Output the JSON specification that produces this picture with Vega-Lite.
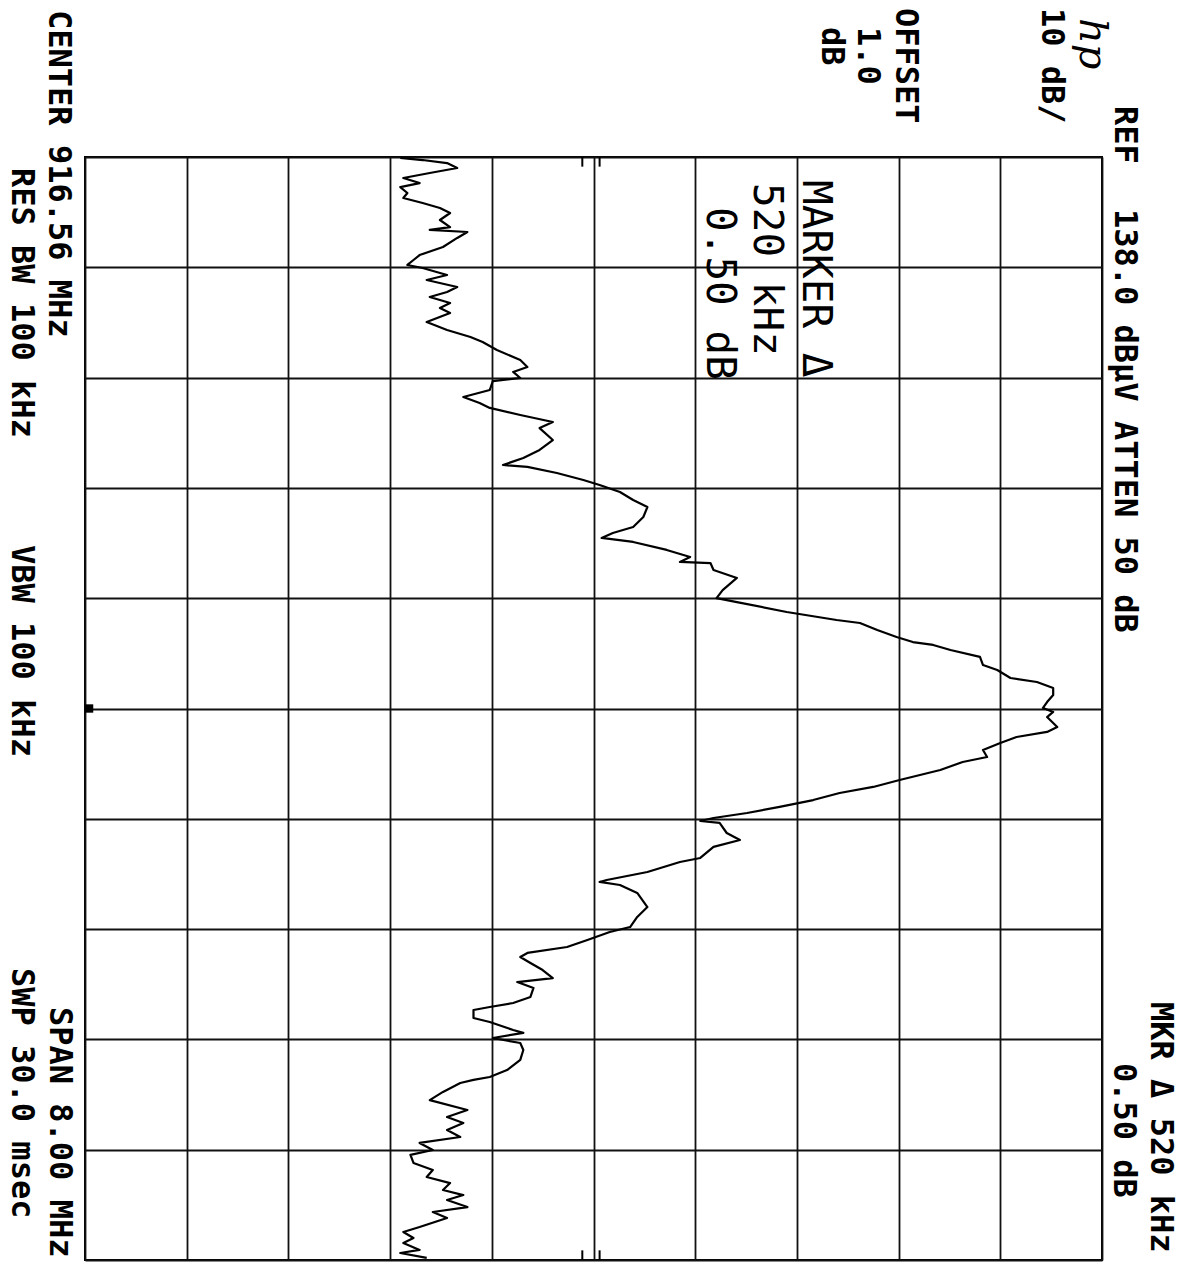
{
  "$schema": "https://vega.github.io/schema/vega-lite/v6.json",
  "width": 1017,
  "height": 1103,
  "autosize": "none",
  "padding": {"left": 85, "top": 157, "right": 80, "bottom": 4},
  "background": "#ffffff",
  "config": {
    "view": {"stroke": "#000000", "strokeWidth": 2},
    "axis": {
      "grid": true,
      "gridColor": "#111111",
      "gridWidth": 1.8,
      "gridOpacity": 1,
      "labels": false,
      "ticks": false,
      "domain": false
    },
    "text": {"font": "DejaVu Sans Mono", "fontWeight": "bold", "color": "#000000", "angle": 90, "align": "left", "baseline": "middle"}
  },
  "datasets": {
    "trace": [
      {"f": 912.567, "a": 69.0}, {"f": 912.582, "a": 71.2}, {"f": 912.604, "a": 73.6}, {"f": 912.640, "a": 74.6},
      {"f": 912.676, "a": 71.9}, {"f": 912.712, "a": 69.3}, {"f": 912.749, "a": 70.9}, {"f": 912.778, "a": 69.0},
      {"f": 912.821, "a": 69.7}, {"f": 912.857, "a": 69.3}, {"f": 912.894, "a": 71.2}, {"f": 912.930, "a": 72.9},
      {"f": 912.966, "a": 73.9}, {"f": 913.017, "a": 72.9}, {"f": 913.068, "a": 73.9}, {"f": 913.089, "a": 71.9},
      {"f": 913.104, "a": 75.6}, {"f": 913.147, "a": 74.6}, {"f": 913.213, "a": 73.2}, {"f": 913.271, "a": 70.9},
      {"f": 913.307, "a": 70.3}, {"f": 913.343, "a": 69.7}, {"f": 913.365, "a": 71.2}, {"f": 913.416, "a": 73.6},
      {"f": 913.452, "a": 71.6}, {"f": 913.503, "a": 74.6}, {"f": 913.539, "a": 73.6}, {"f": 913.575, "a": 71.9},
      {"f": 913.619, "a": 73.9}, {"f": 913.655, "a": 72.9}, {"f": 913.691, "a": 73.9}, {"f": 913.757, "a": 71.6},
      {"f": 913.815, "a": 73.6}, {"f": 913.866, "a": 75.9}, {"f": 913.902, "a": 77.1}, {"f": 913.960, "a": 78.5},
      {"f": 914.032, "a": 80.8}, {"f": 914.083, "a": 81.5}, {"f": 914.119, "a": 80.1}, {"f": 914.163, "a": 80.8},
      {"f": 914.185, "a": 78.1}, {"f": 914.250, "a": 77.8}, {"f": 914.301, "a": 75.2}, {"f": 914.344, "a": 76.8},
      {"f": 914.380, "a": 77.8}, {"f": 914.431, "a": 80.8}, {"f": 914.482, "a": 84.0}, {"f": 914.526, "a": 82.7},
      {"f": 914.613, "a": 84.0}, {"f": 914.685, "a": 82.7}, {"f": 914.743, "a": 81.1}, {"f": 914.794, "a": 79.1},
      {"f": 914.808, "a": 81.5}, {"f": 914.852, "a": 84.4}, {"f": 914.903, "a": 87.0}, {"f": 914.939, "a": 88.6},
      {"f": 914.990, "a": 90.6}, {"f": 915.048, "a": 91.9}, {"f": 915.099, "a": 93.3}, {"f": 915.171, "a": 92.9},
      {"f": 915.244, "a": 91.9}, {"f": 915.287, "a": 89.9}, {"f": 915.323, "a": 88.8}, {"f": 915.352, "a": 91.9},
      {"f": 915.410, "a": 95.2}, {"f": 915.461, "a": 97.5}, {"f": 915.497, "a": 96.5}, {"f": 915.505, "a": 99.5},
      {"f": 915.555, "a": 99.8}, {"f": 915.613, "a": 102.1}, {"f": 915.701, "a": 100.7}, {"f": 915.759, "a": 100.1},
      {"f": 915.788, "a": 102.1}, {"f": 915.860, "a": 107.0}, {"f": 915.918, "a": 111.9}, {"f": 915.940, "a": 114.2},
      {"f": 915.991, "a": 115.9}, {"f": 916.041, "a": 117.8}, {"f": 916.078, "a": 119.4}, {"f": 916.099, "a": 121.4},
      {"f": 916.136, "a": 123.1}, {"f": 916.186, "a": 126.0}, {"f": 916.245, "a": 126.3}, {"f": 916.281, "a": 127.7},
      {"f": 916.339, "a": 129.0}, {"f": 916.368, "a": 131.6}, {"f": 916.411, "a": 133.2}, {"f": 916.462, "a": 133.2},
      {"f": 916.513, "a": 132.6}, {"f": 916.556, "a": 132.2}, {"f": 916.585, "a": 133.2}, {"f": 916.622, "a": 132.6},
      {"f": 916.694, "a": 133.6}, {"f": 916.730, "a": 132.6}, {"f": 916.767, "a": 129.6}, {"f": 916.810, "a": 128.0},
      {"f": 916.861, "a": 126.3}, {"f": 916.912, "a": 126.7}, {"f": 916.948, "a": 124.3}, {"f": 917.006, "a": 122.1},
      {"f": 917.079, "a": 118.1}, {"f": 917.129, "a": 115.5}, {"f": 917.173, "a": 112.2}, {"f": 917.224, "a": 109.6},
      {"f": 917.274, "a": 106.3}, {"f": 917.318, "a": 103.1}, {"f": 917.354, "a": 99.8}, {"f": 917.376, "a": 98.5},
      {"f": 917.390, "a": 100.4}, {"f": 917.463, "a": 101.1}, {"f": 917.514, "a": 102.4}, {"f": 917.564, "a": 99.8},
      {"f": 917.644, "a": 98.5}, {"f": 917.673, "a": 96.5}, {"f": 917.746, "a": 93.3}, {"f": 917.804, "a": 89.3},
      {"f": 917.818, "a": 88.6}, {"f": 917.840, "a": 90.6}, {"f": 917.898, "a": 92.3}, {"f": 918.000, "a": 93.3},
      {"f": 918.072, "a": 92.3}, {"f": 918.145, "a": 91.6}, {"f": 918.181, "a": 89.6}, {"f": 918.239, "a": 87.4},
      {"f": 918.290, "a": 85.4}, {"f": 918.333, "a": 81.5}, {"f": 918.362, "a": 80.8}, {"f": 918.406, "a": 81.8},
      {"f": 918.457, "a": 83.0}, {"f": 918.515, "a": 84.0}, {"f": 918.544, "a": 80.5}, {"f": 918.587, "a": 82.1},
      {"f": 918.652, "a": 81.8}, {"f": 918.696, "a": 80.1}, {"f": 918.725, "a": 77.8}, {"f": 918.747, "a": 76.2},
      {"f": 918.805, "a": 76.2}, {"f": 918.834, "a": 77.8}, {"f": 918.892, "a": 80.1}, {"f": 918.913, "a": 81.1},
      {"f": 918.950, "a": 78.1}, {"f": 918.986, "a": 80.8}, {"f": 919.037, "a": 81.1}, {"f": 919.109, "a": 80.8},
      {"f": 919.182, "a": 79.5}, {"f": 919.233, "a": 77.8}, {"f": 919.254, "a": 76.2}, {"f": 919.276, "a": 74.9},
      {"f": 919.341, "a": 73.2}, {"f": 919.400, "a": 71.9}, {"f": 919.472, "a": 75.6}, {"f": 919.523, "a": 73.6},
      {"f": 919.566, "a": 75.2}, {"f": 919.617, "a": 73.6}, {"f": 919.668, "a": 74.9}, {"f": 919.711, "a": 70.9},
      {"f": 919.762, "a": 72.2}, {"f": 919.798, "a": 70.0}, {"f": 919.856, "a": 70.3}, {"f": 919.907, "a": 72.2},
      {"f": 919.958, "a": 71.6}, {"f": 920.002, "a": 73.9}, {"f": 920.052, "a": 73.2}, {"f": 920.089, "a": 75.2},
      {"f": 920.125, "a": 73.6}, {"f": 920.176, "a": 75.6}, {"f": 920.212, "a": 72.2}, {"f": 920.255, "a": 73.6},
      {"f": 920.321, "a": 70.9}, {"f": 920.357, "a": 69.3}, {"f": 920.400, "a": 70.3}, {"f": 920.437, "a": 69.3},
      {"f": 920.487, "a": 70.9}, {"f": 920.509, "a": 69.0}, {"f": 920.545, "a": 71.6}
    ],
    "edgeTicks": [
      {"a": 86.9, "f1": 912.56, "f2": 912.63},
      {"a": 88.6, "f1": 912.56, "f2": 912.63},
      {"a": 86.9, "f1": 920.49, "f2": 920.56},
      {"a": 88.6, "f1": 920.49, "f2": 920.56}
    ],
    "markerPos": [{"a": 38.4, "f": 916.56}],
    "readouts": [
      {"text": "REF", "level": 140.3, "freq": 912.19},
      {"text": "138.0 dBµV ATTEN 50 dB", "level": 140.3, "freq": 912.937},
      {"text": "10 dB/", "level": 133.1, "freq": 911.479},
      {"text": "OFFSET", "level": 118.7, "freq": 911.479},
      {"text": "1.0", "level": 115.0, "freq": 911.617},
      {"text": "dB", "level": 111.5, "freq": 911.617},
      {"text": "MKR Δ 520 kHz", "level": 143.8, "freq": 918.689},
      {"text": "0.50 dB", "level": 140.2, "freq": 919.131},
      {"text": "CENTER 916.56 MHz", "level": 35.4, "freq": 911.494},
      {"text": "RES BW 100 kHz", "level": 31.8, "freq": 912.64},
      {"text": "VBW 100 kHz", "level": 31.8, "freq": 915.374},
      {"text": "SPAN 8.00 MHz", "level": 35.5, "freq": 918.725},
      {"text": "SWP 30.0 msec", "level": 31.8, "freq": 918.442}
    ],
    "markerNote": [
      {"text": "MARKER Δ", "level": 109.8, "freq": 912.727},
      {"text": "520 kHz", "level": 105.0, "freq": 912.749},
      {"text": "0.50 dB", "level": 100.3, "freq": 912.923}
    ],
    "brand": [{"text": "hp", "level": 137.0, "freq": 911.552}]
  },
  "layer": [
    {
      "data": {"name": "trace"},
      "mark": {"type": "line", "color": "#000000", "strokeWidth": 2.2, "strokeJoin": "round"},
      "encoding": {
        "x": {
          "field": "a", "type": "quantitative",
          "scale": {"domain": [38, 138], "nice": false, "zero": false},
          "axis": {"values": [38, 48, 58, 68, 78, 88, 98, 108, 118, 128, 138], "title": null}
        },
        "y": {
          "field": "f", "type": "quantitative",
          "scale": {"domain": [912.56, 920.56], "nice": false, "zero": false, "reverse": true},
          "axis": {"values": [912.56, 913.36, 914.16, 914.96, 915.76, 916.56, 917.36, 918.16, 918.96, 919.76, 920.56], "title": null}
        },
        "order": {"field": "f", "type": "quantitative"}
      }
    },
    {
      "data": {"name": "edgeTicks"},
      "mark": {"type": "rule", "color": "#000000", "strokeWidth": 2},
      "encoding": {
        "x": {"field": "a", "type": "quantitative"},
        "y": {"field": "f1", "type": "quantitative"},
        "y2": {"field": "f2"}
      }
    },
    {
      "data": {"name": "markerPos"},
      "mark": {"type": "square", "color": "#000000", "filled": true, "size": 70, "opacity": 1},
      "encoding": {
        "x": {"field": "a", "type": "quantitative"},
        "y": {"field": "f", "type": "quantitative"}
      }
    },
    {
      "data": {"name": "readouts"},
      "mark": {"type": "text", "fontSize": 32},
      "encoding": {
        "x": {"field": "level", "type": "quantitative"},
        "y": {"field": "freq", "type": "quantitative"},
        "text": {"field": "text"}
      }
    },
    {
      "data": {"name": "markerNote"},
      "mark": {"type": "text", "fontSize": 41, "fontWeight": "normal"},
      "encoding": {
        "x": {"field": "level", "type": "quantitative"},
        "y": {"field": "freq", "type": "quantitative"},
        "text": {"field": "text"}
      }
    },
    {
      "data": {"name": "brand"},
      "mark": {"type": "text", "fontSize": 40, "font": "DejaVu Serif", "fontStyle": "italic", "fontWeight": "normal"},
      "encoding": {
        "x": {"field": "level", "type": "quantitative"},
        "y": {"field": "freq", "type": "quantitative"},
        "text": {"field": "text"}
      }
    }
  ]
}
